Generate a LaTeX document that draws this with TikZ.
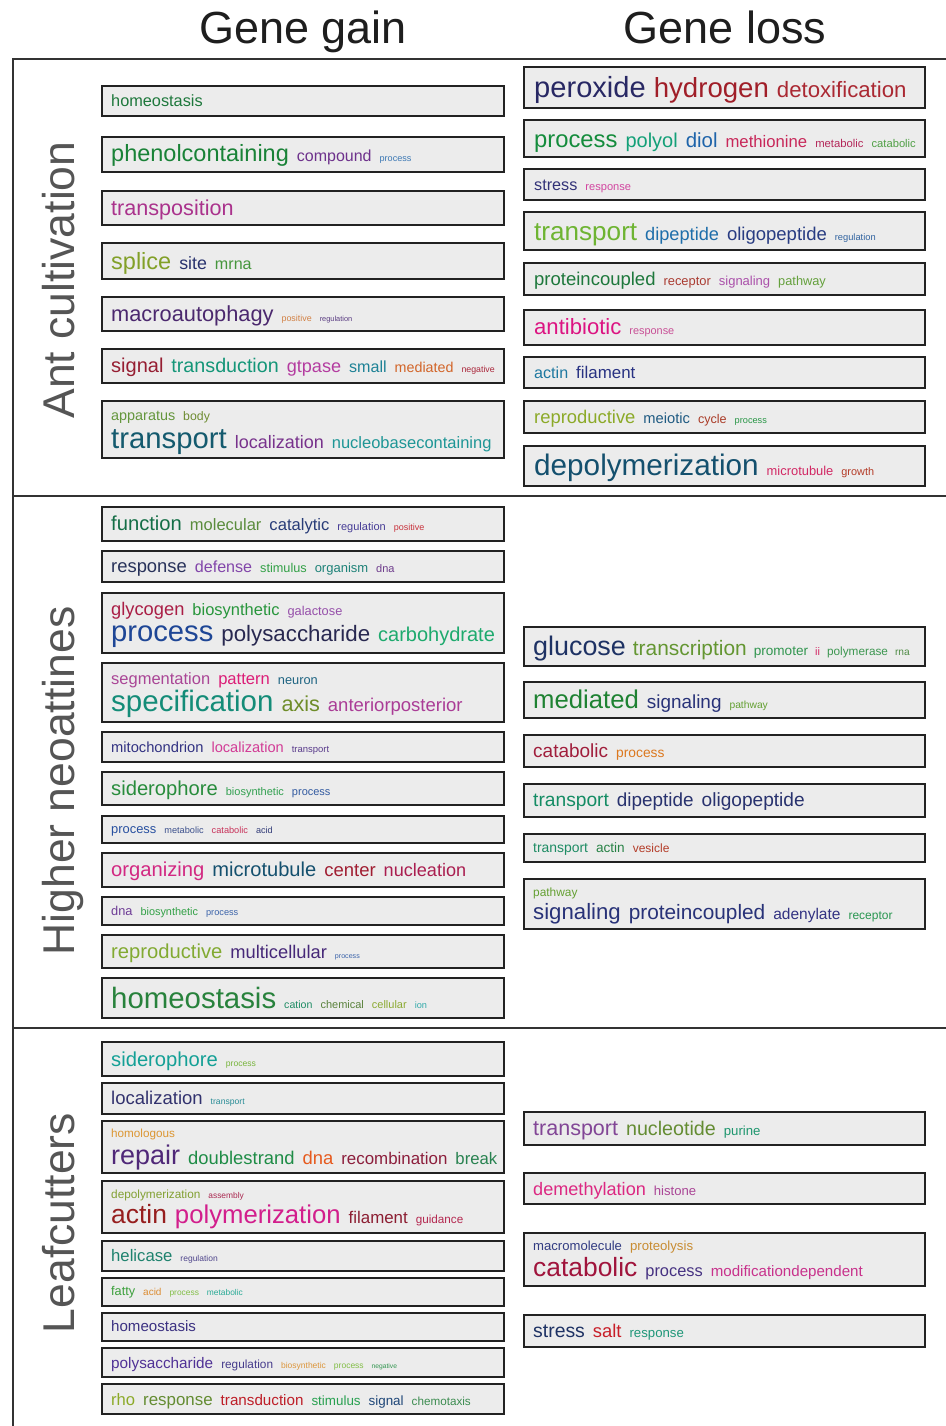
\documentclass[tikz,border=0pt]{standalone}
\usepackage{fontspec}
\setmainfont{Liberation Sans}
\newcommand{\wrd}[3]{{\color[RGB]{#1}\fontsize{#2}{#2}\selectfont #3}\hspace{8pt}}
\newcommand{\wrn}[3]{{\color[RGB]{#1}\fontsize{#2}{#2}\selectfont #3}\hspace{7pt}}
\definecolor{boxfill}{RGB}{236,236,236}
\definecolor{boxline}{RGB}{34,34,34}
\definecolor{frameline}{RGB}{51,51,51}
\definecolor{rowlab}{RGB}{85,85,85}
\definecolor{title}{RGB}{30,30,30}
\begin{document}
\begin{tikzpicture}[x=1pt,y=-1pt,
  gbox/.style={draw=boxline, line width=2pt, fill=boxfill, inner sep=0pt, minimum width=402pt},
  lbox/.style={draw=boxline, line width=2pt, fill=boxfill, inner sep=0pt, minimum width=401pt},
  txt/.style={anchor=base west, inner sep=0pt},
  frame/.style={draw=frameline, line width=2pt},
  rowlabel/.style={rotate=90, anchor=base, inner sep=0pt, text=rowlab, font=\fontsize{44.5}{44.5}\selectfont},
  coltitle/.style={anchor=base, inner sep=0pt, text=title, font=\fontsize{45}{45}\selectfont}]
\useasboundingbox (0,0) rectangle (945,1426);
\fill[white] (0,0) rectangle (945,1426);

% titles
\node[coltitle] (tgain) at (303,44) {Gene gain};
\node[coltitle] (tloss) at (725,44) {Gene loss};

% frame
\draw[frame] (13,1427) -- (13,59) -- (946,59);
\draw[frame] (13,496) -- (946,496);
\draw[frame] (13,1028) -- (946,1028);

% row labels
\node[rowlabel] (rant) at (74,280) {Ant cultivation};
\node[rowlabel] (rhigh) at (74,781) {Higher neoattines};
\node[rowlabel] (rleaf) at (74,1223) {Leafcutters};

% ---------- Ant cultivation : gain ----------
\node[gbox, minimum height=30pt] (ga1) at (303,101) {};
\node[gbox, minimum height=35pt] (ga2) at (303,154.5) {};
\node[gbox, minimum height=34pt] (ga3) at (303,208) {};
\node[gbox, minimum height=36pt] (ga4) at (303,261) {};
\node[gbox, minimum height=34pt] (ga5) at (303,314) {};
\node[gbox, minimum height=34pt] (ga6) at (303,366) {};
\node[gbox, minimum height=57pt] (ga7) at (303,429.5) {};
\node[txt] (ga1t) at (111,106.7) {\wrd{30,120,60}{16.3}{homeostasis}};
\node[txt] (ga2t) at (111,161.7) {\wrd{25,130,55}{23.5}{phenolcontaining}\wrd{110,50,140}{16}{compound}\wrd{60,120,180}{9.1}{process}};
\node[txt] (ga3t) at (111,215) {\wrd{170,50,140}{21.6}{transposition}};
\node[txt] (ga4t) at (111,269) {\wrd{130,160,40}{23.5}{splice}\wrd{40,50,110}{17.8}{site}\wrd{70,150,60}{16.1}{mrna}};
\node[txt] (ga5t) at (111,321.7) {\wrd{75,40,110}{21.8}{macroautophagy}\wrd{210,130,70}{8.9}{positive}\wrd{90,60,130}{7.4}{regulation}};
\node[txt] (ga6t) at (111,372.7) {\wrd{150,30,50}{20}{signal}\wrd{20,150,120}{19.7}{transduction}\wrd{180,60,160}{18.1}{gtpase}\wrd{30,130,150}{16.1}{small}\wrd{210,100,40}{14.3}{mediated}\wrd{170,40,60}{8.8}{negative}};
\node[txt] (ga7a) at (111,420) {\wrd{100,150,60}{14.4}{apparatus}\wrd{110,140,50}{12.3}{body}};
\node[txt] (ga7b) at (111,448.3) {\wrd{20,90,110}{29.3}{transport}\wrd{120,50,140}{18}{localization}\wrd{30,150,150}{16.5}{nucleobasecontaining}};

% ---------- Ant cultivation : loss ----------
\node[lbox, minimum height=41pt] (la1) at (724.5,87.5) {};
\node[lbox, minimum height=37pt] (la2) at (724.5,138.5) {};
\node[lbox, minimum height=31pt] (la3) at (724.5,184.5) {};
\node[lbox, minimum height=38pt] (la4) at (724.5,231) {};
\node[lbox, minimum height=32pt] (la5) at (724.5,279) {};
\node[lbox, minimum height=35pt] (la6) at (724.5,327.5) {};
\node[lbox, minimum height=31pt] (la7) at (724.5,372.5) {};
\node[lbox, minimum height=32pt] (la8) at (724.5,417) {};
\node[lbox, minimum height=40pt] (la9) at (724.5,466) {};
\node[txt] (la1t) at (534,97.3) {\wrd{40,40,100}{29.1}{peroxide}\wrd{160,30,40}{27.6}{hydrogen}\wrd{170,40,50}{22.2}{detoxification}};
\node[txt] (la2t) at (534,147.3) {\wrd{20,140,60}{23.8}{process}\wrd{20,160,120}{20}{polyol}\wrd{30,100,170}{20.4}{diol}\wrd{200,40,90}{16.7}{methionine}\wrd{180,40,90}{11.3}{metabolic}\wrd{80,160,70}{11.2}{catabolic}};
\node[txt] (la3t) at (534,190) {\wrd{50,50,120}{16.2}{stress}\wrd{210,70,160}{11.1}{response}};
\node[txt] (la4t) at (534,240) {\wrd{110,180,50}{26.1}{transport}\wrd{30,110,170}{18.2}{dipeptide}\wrd{40,60,130}{18.5}{oligopeptide}\wrd{50,100,160}{9.3}{regulation}};
\node[txt] (la5t) at (534,285) {\wrd{30,120,60}{18.5}{proteincoupled}\wrd{170,60,50}{12.9}{receptor}\wrd{170,80,170}{13}{signaling}\wrd{100,160,60}{12.8}{pathway}};
\node[txt] (la6t) at (534,334) {\wrd{220,20,130}{22.1}{antibiotic}\wrd{200,80,150}{10.9}{response}};
\node[txt] (la7t) at (534,378.3) {\wrd{30,120,160}{16.1}{actin}\wrd{40,50,130}{16.9}{filament}};
\node[txt] (la8t) at (534,423.3) {\wrd{140,170,40}{18.4}{reproductive}\wrd{30,90,130}{14.7}{meiotic}\wrd{170,60,40}{12.6}{cycle}\wrd{40,150,70}{9.2}{process}};
\node[txt] (la9t) at (534,475) {\wrd{20,80,110}{29.7}{depolymerization}\wrd{210,40,100}{12.9}{microtubule}\wrd{180,60,40}{10.9}{growth}};

% ---------- Higher neoattines : gain ----------
\node[gbox, minimum height=34pt] (gh1) at (303,524) {};
\node[gbox, minimum height=31pt] (gh2) at (303,566.5) {};
\node[gbox, minimum height=60pt] (gh3) at (303,623) {};
\node[gbox, minimum height=59pt] (gh4) at (303,692.5) {};
\node[gbox, minimum height=30pt] (gh5) at (303,747) {};
\node[gbox, minimum height=33pt] (gh6) at (303,788.5) {};
\node[gbox, minimum height=27pt] (gh7) at (303,829.5) {};
\node[gbox, minimum height=34pt] (gh8) at (303,870) {};
\node[gbox, minimum height=28pt] (gh9) at (303,911) {};
\node[gbox, minimum height=33pt] (gh10) at (303,951.5) {};
\node[gbox, minimum height=40pt] (gh11) at (303,998) {};
\node[txt] (gh1t) at (111,530.7) {\wrd{20,110,70}{20.2}{function}\wrd{90,140,60}{16.5}{molecular}\wrd{40,60,120}{16.6}{catalytic}\wrd{70,60,150}{11}{regulation}\wrd{200,50,60}{9}{positive}};
\node[txt] (gh2t) at (111,572.3) {\wrd{40,50,90}{18.4}{response}\wrd{130,70,170}{16.1}{defense}\wrd{50,160,70}{12.7}{stimulus}\wrd{30,130,120}{13}{organism}\wrd{110,60,140}{11}{dna}};
\node[txt] (gh3a) at (111,615) {\wrd{170,30,70}{18.3}{glycogen}\wrd{40,150,60}{16.5}{biosynthetic}\wrd{150,80,170}{12.8}{galactose}};
\node[txt] (gh3b) at (111,641.7) {\wrd{30,70,150}{29.2}{process}\wrd{40,40,80}{22.3}{polysaccharide}\wrd{30,170,110}{20}{carbohydrate}};
\node[txt] (gh4a) at (111,684.3) {\wrd{170,70,150}{16.5}{segmentation}\wrd{220,30,120}{16.6}{pattern}\wrd{30,100,130}{12.8}{neuron}};
\node[txt] (gh4b) at (111,711.7) {\wrd{20,140,120}{29.5}{specification}\wrd{110,140,40}{21.6}{axis}\wrd{170,60,150}{18.5}{anteriorposterior}};
\node[txt] (gh5t) at (111,752.3) {\wrd{50,50,130}{14.7}{mitochondrion}\wrd{210,60,150}{14.6}{localization}\wrd{90,60,140}{9.5}{transport}};
\node[txt] (gh6t) at (111,795) {\wrd{40,140,60}{20.2}{siderophore}\wrd{50,160,80}{11}{biosynthetic}\wrd{50,90,160}{11}{process}};
\node[txt] (gh7t) at (111,833.7) {\wrd{40,80,160}{12.9}{process}\wrd{60,80,140}{9.2}{metabolic}\wrd{200,50,90}{9.2}{catabolic}\wrd{50,60,120}{9.1}{acid}};
\node[txt] (gh8t) at (111,876.7) {\wrd{210,40,130}{20.2}{organizing}\wrd{20,80,110}{20.1}{microtubule}\wrd{160,30,50}{18.5}{center}\wrd{170,30,80}{18.1}{nucleation}};
\node[txt] (gh9t) at (111,915) {\wrd{110,60,150}{12.8}{dna}\wrd{50,160,70}{10.9}{biosynthetic}\wrd{60,100,170}{9.2}{process}};
\node[txt] (gh10t) at (111,958.3) {\wrd{130,170,50}{20.2}{reproductive}\wrd{70,40,120}{18.3}{multicellular}\wrd{60,100,170}{7.1}{process}};
\node[txt] (gh11t) at (111,1008.3) {\wrd{40,130,60}{29.4}{homeostasis}\wrd{30,140,100}{10.6}{cation}\wrd{90,130,60}{11}{chemical}\wrd{140,170,50}{11}{cellular}\wrd{50,170,170}{9.2}{ion}};

% ---------- Higher neoattines : loss ----------
\node[lbox, minimum height=39pt] (lh1) at (724.5,646.5) {};
\node[lbox, minimum height=36pt] (lh2) at (724.5,700) {};
\node[lbox, minimum height=32pt] (lh3) at (724.5,751) {};
\node[lbox, minimum height=33pt] (lh4) at (724.5,800.5) {};
\node[lbox, minimum height=28pt] (lh5) at (724.5,848) {};
\node[lbox, minimum height=50pt] (lh6) at (724.5,904) {};
\node[txt] (lh1t) at (533,655) {\wrn{30,50,100}{26.9}{glucose}\wrn{100,150,50}{20.9}{transcription}\wrn{50,150,80}{13.6}{promoter}\wrn{210,40,100}{11}{ii}\wrn{60,150,80}{11.8}{polymerase}\wrn{80,140,70}{10.2}{rna}};
\node[txt] (lh2t) at (533,708.3) {\wrd{30,130,50}{25.7}{mediated}\wrd{40,50,120}{18.9}{signaling}\wrd{100,160,50}{10.3}{pathway}};
\node[txt] (lh3t) at (533,757.3) {\wrd{160,30,60}{19}{catabolic}\wrd{220,120,30}{13.8}{process}};
\node[txt] (lh4t) at (533,806.7) {\wrd{20,140,100}{19.2}{transport}\wrd{40,50,110}{18.9}{dipeptide}\wrd{40,50,110}{19.1}{oligopeptide}};
\node[txt] (lh5t) at (533,852.3) {\wrd{30,140,100}{13.9}{transport}\wrd{40,130,70}{13.6}{actin}\wrd{180,60,40}{12}{vesicle}};
\node[txt] (lh6a) at (533,896.7) {\wrd{100,160,50}{11.9}{pathway}};
\node[txt] (lh6b) at (533,919.3) {\wrd{40,50,120}{22.2}{signaling}\wrd{40,50,120}{20.8}{proteincoupled}\wrd{50,50,130}{15.5}{adenylate}\wrd{40,150,80}{12}{receptor}};

% ---------- Leafcutters : gain ----------
\node[gbox, minimum height=34pt] (gl1) at (303,1059) {};
\node[gbox, minimum height=31pt] (gl2) at (303,1098.5) {};
\node[gbox, minimum height=52pt] (gl3) at (303,1147) {};
\node[gbox, minimum height=52pt] (gl4) at (303,1207) {};
\node[gbox, minimum height=30pt] (gl5) at (303,1256) {};
\node[gbox, minimum height=28pt] (gl6) at (303,1292) {};
\node[gbox, minimum height=28pt] (gl7) at (303,1327) {};
\node[gbox, minimum height=29pt] (gl8) at (303,1362.5) {};
\node[gbox, minimum height=30pt] (gl9) at (303,1399) {};
\node[txt] (gl1t) at (111,1066.7) {\wrd{20,160,150}{20.2}{siderophore}\wrd{120,180,60}{8.6}{process}};
\node[txt] (gl2t) at (111,1104.3) {\wrd{50,50,110}{18.5}{localization}\wrd{40,140,150}{8.6}{transport}};
\node[txt] (gl3a) at (111,1137.7) {\wrd{220,150,50}{11.7}{homologous}};
\node[txt] (gl3b) at (111,1164.3) {\wrd{80,40,120}{27}{repair}\wrd{30,140,70}{18.4}{doublestrand}\wrd{230,90,30}{18.4}{dna}\wrd{140,30,60}{16.9}{recombination}\wrd{40,130,80}{16.7}{break}};
\node[txt] (gl4a) at (111,1198.3) {\wrd{130,160,50}{11.8}{depolymerization}\wrd{170,40,80}{8.4}{assembly}};
\node[txt] (gl4b) at (111,1223.3) {\wrd{150,30,30}{26.4}{actin}\wrd{210,30,140}{25.7}{polymerization}\wrd{140,30,50}{16.9}{filament}\wrd{180,40,80}{11.7}{guidance}};
\node[txt] (gl5t) at (111,1261.7) {\wrd{30,130,110}{16.7}{helicase}\wrd{80,70,140}{8.5}{regulation}};
\node[txt] (gl6t) at (111,1295.7) {\wrd{60,160,60}{12.7}{fatty}\wrd{220,140,50}{10}{acid}\wrd{130,190,70}{8.4}{process}\wrd{40,170,150}{8.4}{metabolic}};
\node[txt] (gl7t) at (111,1331.7) {\wrd{60,50,130}{15.1}{homeostasis}};
\node[txt] (gl8t) at (111,1368.3) {\wrd{80,50,150}{15.3}{polysaccharide}\wrd{70,60,140}{11.8}{regulation}\wrd{220,150,60}{8.5}{biosynthetic}\wrd{130,190,70}{8.5}{process}\wrd{50,150,80}{6.7}{negative}};
\node[txt] (gl9t) at (111,1405) {\wrd{140,170,40}{16.6}{rho}\wrd{100,140,50}{16.9}{response}\wrd{190,30,40}{15.2}{transduction}\wrd{40,160,80}{13.4}{stimulus}\wrd{30,70,120}{13.4}{signal}\wrd{60,140,80}{11.7}{chemotaxis}};

% ---------- Leafcutters : loss ----------
\node[lbox, minimum height=33pt] (ll1) at (724.5,1128.5) {};
\node[lbox, minimum height=31pt] (ll2) at (724.5,1188.5) {};
\node[lbox, minimum height=53pt] (ll3) at (724.5,1259.5) {};
\node[lbox, minimum height=32pt] (ll4) at (724.5,1331) {};
\node[txt] (ll1t) at (533,1135) {\wrd{130,70,150}{21.5}{transport}\wrd{100,140,50}{19.7}{nucleotide}\wrd{30,150,110}{13.2}{purine}};
\node[txt] (ll2t) at (533,1195) {\wrd{220,40,130}{18.1}{demethylation}\wrd{170,70,150}{13.1}{histone}};
\node[txt] (ll3a) at (533,1250.7) {\wrd{50,60,130}{13.1}{macromolecule}\wrd{200,140,50}{13.2}{proteolysis}};
\node[txt] (ll3b) at (533,1276.7) {\wrd{160,20,60}{26.4}{catabolic}\wrd{70,50,130}{16.4}{process}\wrd{200,50,140}{15.1}{modificationdependent}};
\node[txt] (ll4t) at (533,1337.3) {\wrd{30,50,100}{19.4}{stress}\wrd{200,30,40}{18.4}{salt}\wrd{30,150,120}{13.2}{response}};
\end{tikzpicture}
\end{document}
